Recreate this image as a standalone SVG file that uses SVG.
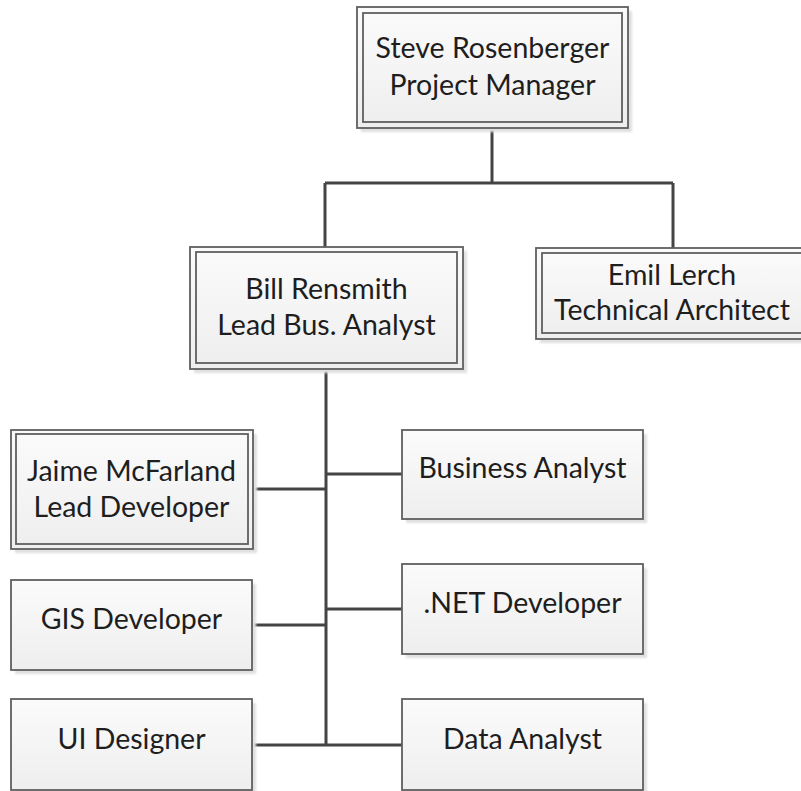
<svg xmlns="http://www.w3.org/2000/svg" width="801" height="791" viewBox="0 0 801 791">
  <defs>
    <linearGradient id="boxFill" x1="0" y1="0" x2="0" y2="1">
      <stop offset="0" stop-color="#fbfbfb"/>
      <stop offset="1" stop-color="#eeeeee"/>
    </linearGradient>
    <filter id="soft" x="-10%" y="-10%" width="130%" height="130%">
      <feGaussianBlur stdDeviation="1.2"/>
    </filter>
  </defs>
  <style>
    .shadow { fill: #e0e0e0; filter: url(#soft); }
    .box { fill: url(#boxFill); stroke: #5f5f5f; stroke-width: 1.8; }
    .inner { fill: none; stroke: #5f5f5f; stroke-width: 1.8; }
    .label { font-family: "Lato", "Open Sans", sans-serif; font-size: 28.5px; fill: #1e1e1e; text-anchor: middle; }
    .conn { fill: none; stroke: #444; stroke-width: 3; }
  </style>

  <!-- connectors -->
  <g id="connectors" class="conn">
    <path d="M492 128 V183 M325 183 H673 M325 183 V247 M673 183 V248"/>
    <path d="M326 369 V745"/>
    <path d="M252 489 H326"/>
    <path d="M326 474 H402"/>
    <path d="M252 625 H326"/>
    <path d="M326 609 H402"/>
    <path d="M252 745 H402"/>
  </g>

  <!-- Steve Rosenberger -->
  <g id="steve">
    <rect class="shadow" x="361" y="11" width="271" height="121"/>
    <rect class="box" x="357" y="7" width="271" height="121"/>
    <rect class="inner" x="363" y="13" width="259" height="109"/>
    <text class="label" x="492.5" y="58">Steve Rosenberger</text>
    <text class="label" x="492.5" y="95">Project Manager</text>
  </g>

  <!-- Bill Rensmith -->
  <g id="bill">
    <rect class="shadow" x="194" y="251" width="273" height="122"/>
    <rect class="box" x="190" y="247" width="273" height="122"/>
    <rect class="inner" x="196" y="252" width="261" height="111"/>
    <text class="label" x="326.5" y="299">Bill Rensmith</text>
    <text class="label" x="326.5" y="335">Lead Bus. Analyst</text>
  </g>

  <!-- Emil Lerch -->
  <g id="emil">
    <rect class="shadow" x="540" y="252" width="272" height="91"/>
    <rect class="box" x="536" y="248" width="272" height="91"/>
    <rect class="inner" x="542" y="253" width="260" height="80"/>
    <text class="label" x="672" y="285">Emil Lerch</text>
    <text class="label" x="672" y="320">Technical Architect</text>
  </g>

  <!-- Jaime McFarland -->
  <g id="jaime">
    <rect class="shadow" x="15" y="434" width="242" height="119"/>
    <rect class="box" x="11" y="430" width="242" height="119"/>
    <rect class="inner" x="16" y="434" width="232" height="110"/>
    <text class="label" x="131.5" y="481">Jaime McFarland</text>
    <text class="label" x="131.5" y="517">Lead Developer</text>
  </g>

  <!-- Business Analyst -->
  <g id="business-analyst">
    <rect class="shadow" x="406" y="434" width="241" height="89"/>
    <rect class="box" x="402" y="430" width="241" height="89"/>
    <text class="label" x="522.5" y="478">Business Analyst</text>
  </g>

  <!-- GIS Developer -->
  <g id="gis-developer">
    <rect class="shadow" x="15" y="584" width="241" height="90"/>
    <rect class="box" x="11" y="580" width="241" height="90"/>
    <text class="label" x="131.5" y="629">GIS Developer</text>
  </g>

  <!-- .NET Developer -->
  <g id="net-developer">
    <rect class="shadow" x="406" y="568" width="241" height="90"/>
    <rect class="box" x="402" y="564" width="241" height="90"/>
    <text class="label" x="522.5" y="613">.NET Developer</text>
  </g>

  <!-- UI Designer -->
  <g id="ui-designer">
    <rect class="shadow" x="15" y="703" width="241" height="91"/>
    <rect class="box" x="11" y="699" width="241" height="91"/>
    <text class="label" x="131.5" y="749">UI Designer</text>
  </g>

  <!-- Data Analyst -->
  <g id="data-analyst">
    <rect class="shadow" x="406" y="703" width="241" height="91"/>
    <rect class="box" x="402" y="699" width="241" height="91"/>
    <text class="label" x="522.5" y="749">Data Analyst</text>
  </g>
</svg>
